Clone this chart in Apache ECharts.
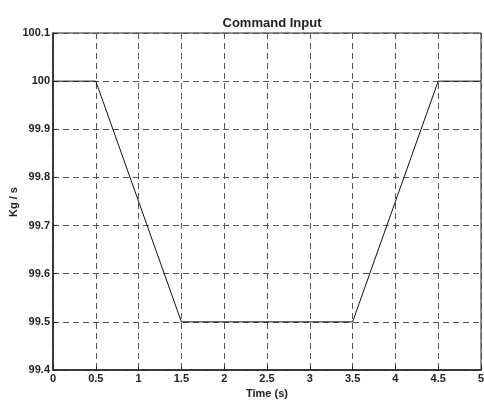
<!DOCTYPE html>
<html>
<head>
<meta charset="utf-8">
<script src="https://cdn.jsdelivr.net/npm/echarts@6/dist/echarts.min.js"></script>
<style>
  html, body { margin: 0; padding: 0; background: #fff; }
  #chart { width: 484px; height: 400px; }
</style>
</head>
<body>
<div id="chart"></div>
<script>
// Commanded mass flow profile (breakpoints of the ramp)
const timeValues = [0, 0.5, 1.5, 3.5, 4.5, 5];
const flowValues = [100, 100, 99.5, 99.5, 100, 100];

const titleText = 'Command Input';
const xAxisName = 'Time (s)';
const yAxisName = 'Kg / s';

const fontFamily = 'Liberation Sans, Arial, sans-serif';
const gridLine = { show: true, lineStyle: { color: '#555', width: 1, type: [6, 4] } };
const inwardTick = { show: true, inside: true, length: 4, lineStyle: { color: '#222', width: 1 } };

const chart = echarts.init(document.getElementById('chart'), null, { renderer: 'canvas' });
chart.setOption({
  animation: false,
  backgroundColor: '#fff',
  title: {
    text: titleText,
    left: 267, top: 12, textAlign: 'center',
    textStyle: { fontFamily, fontSize: 13, fontWeight: 'bold', color: '#222' }
  },
  grid: {
    left: 53, right: 3, top: 33, bottom: 30,
    outerBoundsMode: 'none', containLabel: false,
    show: true, borderColor: '#222', borderWidth: 1
  },
  // vertical axis title, placed beside the tick labels
  graphic: [{
    type: 'text',
    x: 14, y: 202, rotation: Math.PI / 2,
    style: {
      text: yAxisName, fontFamily, fontSize: 11, fontWeight: 'bold', fill: '#222',
      align: 'center', verticalAlign: 'middle'
    }
  }],
  xAxis: {
    type: 'value', min: 0, max: 5, interval: 0.5,
    name: xAxisName, nameLocation: 'middle', nameGap: 16,
    nameTextStyle: { fontFamily, fontSize: 11, fontWeight: 'bold', color: '#222' },
    axisLine: { show: true, onZero: false, lineStyle: { color: '#222', width: 1.5 } },
    axisTick: inwardTick,
    axisLabel: { margin: 3, fontFamily, fontSize: 11, fontWeight: 'bold', color: '#222',
      formatter: v => String(+v.toFixed(1)) },
    splitLine: gridLine
  },
  yAxis: {
    type: 'value', min: 99.4, max: 100.1, interval: 0.1,
    axisLine: { show: true, onZero: false, lineStyle: { color: '#222', width: 1.5 } },
    axisTick: inwardTick,
    axisLabel: { margin: 3, fontFamily, fontSize: 11, fontWeight: 'bold', color: '#222',
      formatter: v => String(+v.toFixed(1)) },
    splitLine: gridLine
  },
  series: [{
    type: 'line',
    data: timeValues.map((t, i) => [t, flowValues[i]]),
    symbol: 'none',
    lineStyle: { color: '#111', width: 1 },
    z: 5
  }]
});
</script>
</body>
</html>
